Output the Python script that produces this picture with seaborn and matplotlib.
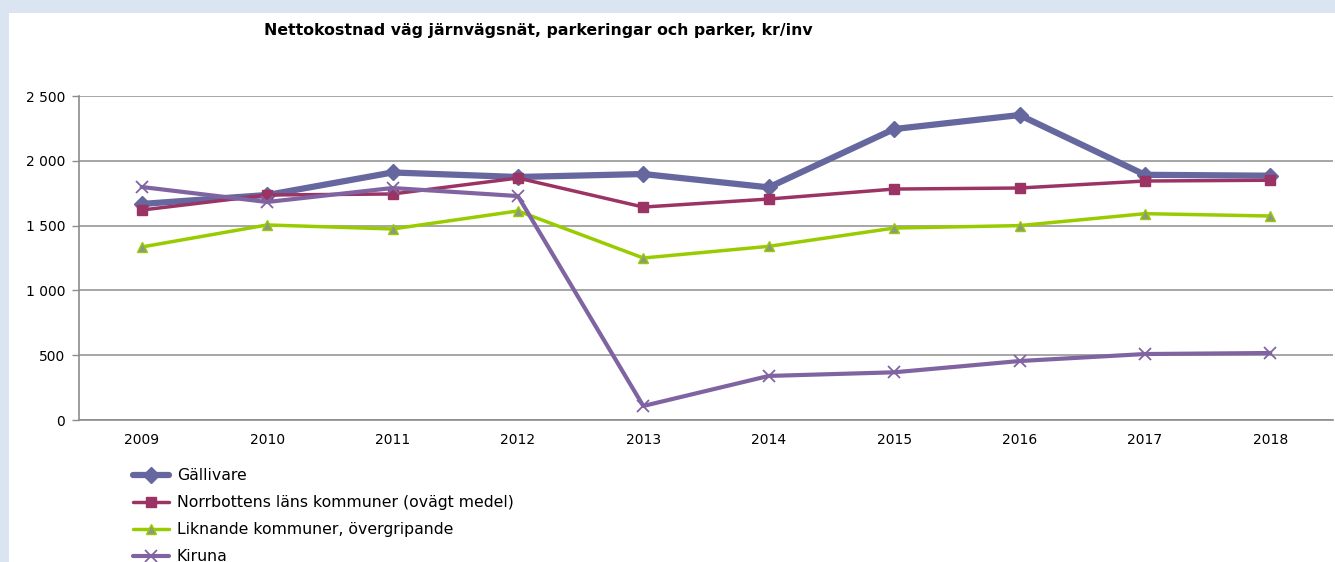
import matplotlib
matplotlib.use("Agg")
import matplotlib.pyplot as plt
from matplotlib.patches import Rectangle
from matplotlib.ticker import FuncFormatter, MultipleLocator
import seaborn as sns
import pandas as pd
import numpy as np

years = ["2009", "2010", "2011", "2012", "2013", "2014", "2015", "2016", "2017", "2018"]
gallivare = [1667, 1736, 1910, 1875, 1898, 1795, 2245, 2353, 1892, 1885]
norrbotten = [1620, 1736, 1744, 1867, 1643, 1705, 1782, 1790, 1844, 1850]
liknande = [1335, 1505, 1474, 1613, 1250, 1340, 1481, 1500, 1592, 1574]
kiruna = [1798, 1682, 1790, 1728, 108, 340, 368, 455, 509, 517]

series_names = [
    "Gällivare",
    "Norrbottens läns kommuner (ovägt medel)",
    "Liknande kommuner, övergripande",
    "Kiruna",
]
series_values = [gallivare, norrbotten, liknande, kiruna]

styles = {
    "Gällivare": dict(color="#65679e", lw=4.5, marker="D", ms=8, mfc="#65679e", mec="#65679e", mew=1),
    "Norrbottens läns kommuner (ovägt medel)": dict(color="#9b3465", lw=2.5, marker="s", ms=7, mfc="#9b3465", mec="#9b3465", mew=1),
    "Liknande kommuner, övergripande": dict(color="#99cc00", lw=2.5, marker="^", ms=7, mfc="#8c9880", mec="#99cc00", mew=1),
    "Kiruna": dict(color="#8064a2", lw=3, marker="x", ms=9, mfc="#8064a2", mec="#8064a2", mew=1.3),
}

sns.set_theme(style="white")
plt.rcParams["font.family"] = ["DejaVu Sans"]

W, H = 1335, 562
fig = plt.figure(figsize=(W / 100, H / 100), dpi=100)
fig.patch.set_facecolor("#dbe5f1")
fig.add_artist(Rectangle((9 / W, 0), 1 - 9 / W, 1 - 13 / H, transform=fig.transFigure,
                         facecolor="white", edgecolor="none", zorder=0))

ax = fig.add_axes([79 / W, 1 - 420 / H, (1333 - 79) / W, (420 - 96) / H])
ax.set_facecolor("none")

x = np.arange(len(years))
for name, vals in zip(series_names, series_values):
    st = styles[name]
    df = pd.DataFrame({"x": x, "y": vals})
    sns.lineplot(data=df, x="x", y="y", ax=ax, color=st["color"], linewidth=st["lw"],
                 marker=st["marker"], markersize=st["ms"], markerfacecolor=st["mfc"],
                 markeredgecolor=st["mec"], markeredgewidth=st["mew"], label=name,
                 legend=False, zorder=3)

ax.set_xlim(-0.5, len(years) - 0.5)
ax.set_ylim(0, 2500)
ax.yaxis.set_major_locator(MultipleLocator(500))
ax.yaxis.set_major_formatter(FuncFormatter(lambda v, p: f"{int(v):,}".replace(",", " ")))
ax.grid(axis="y", color="#a6a6a6", linewidth=1.4, zorder=0)
ax.set_axisbelow(True)

ax.set_xticks(x)
ax.set_xticklabels(years)
ax.set_xticks(np.arange(-0.5, len(years)), minor=True)
ax.tick_params(axis="x", which="major", length=0, pad=9, labelsize=10, colors="#000000")
ax.tick_params(axis="x", which="minor", length=5, width=1, color="#8c8c8c", direction="out")
ax.tick_params(axis="y", which="major", length=5, width=1, color="#8c8c8c", direction="out",
               pad=5, labelsize=10, labelcolor="#000000", left=True)
ax.set_xlabel("")
ax.set_ylabel("")

for side in ("top", "right"):
    ax.spines[side].set_visible(False)
for side in ("left", "bottom"):
    ax.spines[side].set_color("#8c8c8c")
    ax.spines[side].set_linewidth(1.2)

fig.text(538 / W, 1 - 31 / H, "Nettokostnad väg järnvägsnät, parkeringar och parker, kr/inv",
         ha="center", va="center", fontsize=11.35, fontweight="bold", color="#000000")

handles, labels = ax.get_legend_handles_labels()
fig.legend(handles, labels, loc="upper left", bbox_to_anchor=(133 / W, 1 - 468 / H),
           frameon=False, fontsize=11.3, labelcolor="#000000", handlelength=2.3,
           handletextpad=0.5, labelspacing=0.77, borderaxespad=0, borderpad=0)

fig.savefig("out.png", dpi=100, facecolor=fig.get_facecolor())
